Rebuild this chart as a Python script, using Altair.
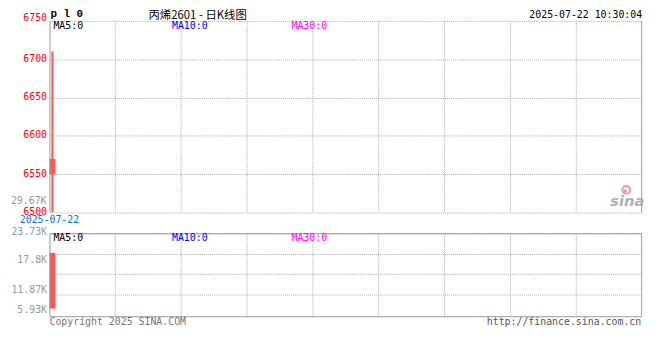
import altair as alt
import pandas as pd

# ---- data ----
dates = ["2025-07-22"]
opens = [6550]
closes = [6570]
highs = [6710]
lows = [6500]
volumes = [18050]
volume_floor = [1930]

price_ticks = [6500, 6550, 6600, 6650, 6700, 6750]
vol_ticks = [5930, 11870, 17800, 23730]
vol_tick_labels = ["5.93K", "11.87K", "17.8K", "23.73K"]
vol_max = 23730
slot_count = 90
vgrid = [10, 20, 30, 40, 50, 60, 70, 80]

MONO = "DejaVu Sans Mono"
RED = "#ff5555"
GRID = "#aaaaaa"
BORDER = "#999999"

df = pd.DataFrame({
    "i": list(range(len(dates))),
    "date": dates,
    "open": opens,
    "close": closes,
    "high": highs,
    "low": lows,
    "vol": volumes,
    "vfloor": volume_floor,
})

xscale = alt.Scale(domain=[0, slot_count], nice=False, zero=False)


def pscale():
    return alt.Scale(domain=[price_ticks[0], price_ticks[-1]], range=[194, 0], nice=False, zero=False)


vscale = alt.Scale(domain=[0, vol_max], range=[298, 215], nice=False)

vol_expr = ""
for v, l in zip(vol_ticks, vol_tick_labels):
    vol_expr += "datum.value == %d ? '%s' : " % (v, l)
vol_expr += "''"

base = alt.Chart(df).transform_calculate(
    w1="datum.i + 0.3", w2="datum.i + 0.6", x2="datum.i + 0.9"
)

wick = base.mark_bar(color=RED).encode(
    x=alt.X("w1:Q", scale=xscale, axis=None),
    x2="w2:Q",
    y=alt.Y("low:Q", scale=pscale(),
            axis=alt.Axis(orient="left", values=price_ticks, grid=True, gridColor=GRID,
                          gridDash=[1, 1], ticks=False, tickSize=0, domain=False,
                          labelColor="#ff0000", labelFont=MONO, labelFontSize=10,
                          labelPadding=3, title=None, format="d",
                          labelOffset={"condition": {"test": "datum.value >= 6750", "value": -3},
                                       "value": -1})),
    y2="high:Q",
)
body = base.mark_bar(color=RED).encode(
    x=alt.X("i:Q", scale=xscale, axis=None),
    x2="x2:Q",
    y=alt.Y("open:Q", scale=pscale(), axis=None),
    y2="close:Q",
)

date_lbl = base.mark_text(align="center", baseline="middle", color="#0077cc",
                          font=MONO, fontSize=10).encode(
    x=alt.X("i:Q", scale=xscale, axis=None),
    y=alt.value(202),
    text="date:N",
)

volbar = base.mark_bar(color=RED).encode(
    x=alt.X("i:Q", scale=xscale, axis=None),
    x2="x2:Q",
    y=alt.Y("vol:Q", scale=vscale,
            axis=alt.Axis(orient="left", values=vol_ticks, labelExpr=vol_expr, grid=True,
                          gridColor=GRID, gridDash=[1, 1], ticks=False, tickSize=0,
                          domain=False, labelColor="#999999", labelFont=MONO,
                          labelFontSize=10, labelPadding=3, title=None,
                          labelOffset={"condition": [
                              {"test": "datum.value > 20000", "value": -2},
                              {"test": "datum.value > 15000", "value": 6}],
                              "value": 15})),
    y2="vfloor:Q",
)

gdf = pd.DataFrame({"g": vgrid})
vgrid_top = alt.Chart(gdf).mark_rule(color=GRID, strokeDash=[1, 1]).encode(
    x=alt.X("g:Q", scale=xscale, axis=None), y=alt.value(0), y2=alt.value(194))
vgrid_bot = alt.Chart(gdf).mark_rule(color=GRID, strokeDash=[1, 1]).encode(
    x=alt.X("g:Q", scale=xscale, axis=None), y=alt.value(215), y2=alt.value(301))

one = pd.DataFrame({"a": [0]})
border_left = alt.Chart(one).mark_rule(color=BORDER).encode(
    x=alt.value(0.5), y=alt.value(0), y2=alt.value(194))
border_right = alt.Chart(one).mark_rule(color=BORDER).encode(
    x=alt.value(599.5), y=alt.value(0), y2=alt.value(194))
vol_frame = alt.Chart(one).mark_rect(fillOpacity=0, stroke=BORDER, strokeWidth=1).encode(
    x=alt.value(0.5), x2=alt.value(599.5), y=alt.value(215.5), y2=alt.value(299.5))


def txt(s, x, y, color="#000000", size=10, align="left", font=MONO,
        weight="normal", style="normal", baseline="middle"):
    return alt.Chart(pd.DataFrame({"t": [s]})).mark_text(
        align=align, baseline=baseline, color=color, fontSize=size, font=font,
        fontWeight=weight, fontStyle=style).encode(
        x=alt.value(x), y=alt.value(y), text="t:N")


texts = [
    txt("p l 0", 1, -3.5, size=11, weight="bold", font="Liberation Mono", baseline="alphabetic"),
    txt("丙烯2601 - 日K线图", 150, -4.8, size=11.5, align="center", font="Noto Sans CJK SC"),
    txt("2025-07-22 10:30:04", 600, -6, align="right"),
    txt("MA5:0", 4, 5.5),
    txt("MA10:0", 124, 5.5, color="#0000ff"),
    txt("MA30:0", 245, 5.5, color="#ff00ff"),
    txt("MA5:0", 4, 219.5),
    txt("MA10:0", 124, 219.5, color="#0000ff"),
    txt("MA30:0", 245, 219.5, color="#ff00ff"),
    txt("29.67K", -3, 182, color="#999999", align="right"),
    txt("Copyright 2025 SINA.COM", 0, 305, color="#777777"),
    txt("http://finance.sina.com.cn", 599, 305, color="#555555", align="right"),
    txt("sina", 585, 182, color="#b0b0b0", size=15, align="center", font="DejaVu Sans",
        weight="bold", style="italic"),
]
eye = alt.Chart(one).mark_point(shape="circle", size=60, color="#f08080", strokeWidth=2.5).encode(
    x=alt.value(584), y=alt.value(171))
eye_dot = alt.Chart(one).mark_point(shape="circle", size=8, color="#c06060", filled=True).encode(
    x=alt.value(583), y=alt.value(172))

chart = alt.layer(
    vgrid_top, vgrid_bot, wick, body, volbar, border_left, border_right, vol_frame,
    eye, eye_dot, date_lbl, *texts
).resolve_scale(y="independent").properties(
    width=600, height=299,
    padding={"left": 42, "top": 11, "right": 10, "bottom": 22},
    autosize=alt.AutoSizeParams(type="none"),
    background="white",
).configure_view(stroke=None)

chart.save("out.html", embed_options={"renderer": "svg", "actions": False})
